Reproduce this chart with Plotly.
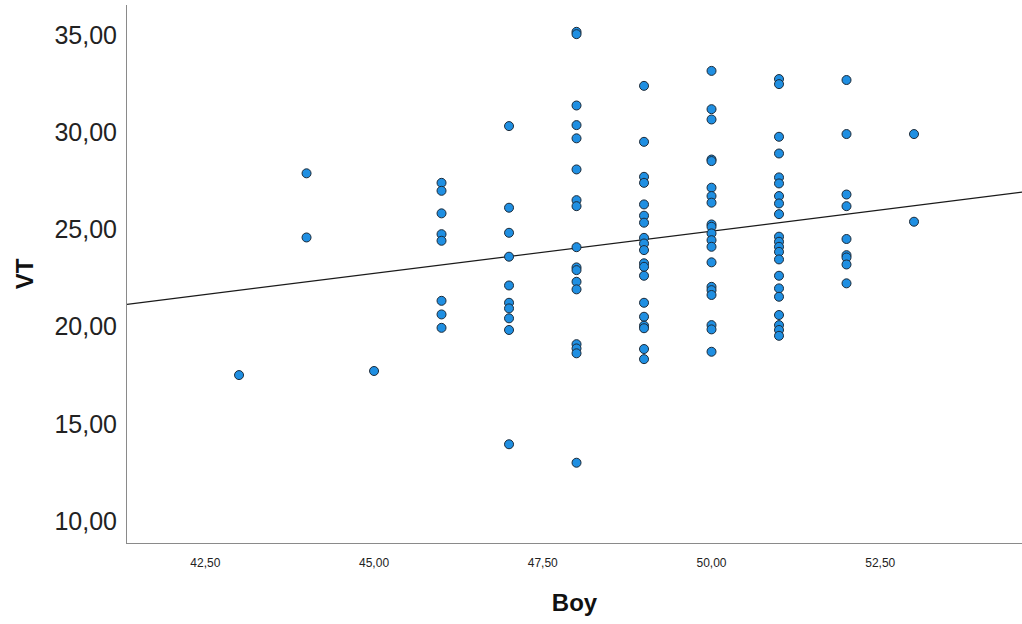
import numpy as np
import plotly.graph_objects as go

# Boy (x) and VT (y) observations, grouped by Boy value
boy_43 = [17.51]
boy_44 = [27.89, 24.59]
boy_45 = [17.72]
boy_46 = [27.40, 26.99, 25.83, 24.76, 24.42, 21.33, 20.63, 19.94]
boy_47 = [30.32, 26.12, 24.83, 23.60, 22.12, 21.23, 20.94, 20.43, 19.83, 13.95]
boy_48 = [35.17, 35.05, 31.38, 30.37, 29.69, 28.09, 26.51, 26.20, 24.09,
          23.05, 22.91, 22.31, 21.92, 19.10, 18.88, 18.63, 13.00]
boy_49 = [32.39, 29.51, 27.71, 27.40, 26.29, 25.71, 25.35, 24.57, 24.28,
          23.94, 23.26, 23.08, 22.62, 21.23, 20.51, 20.05, 19.92, 18.85, 18.33]
boy_50 = [33.16, 31.19, 30.66, 28.60, 28.52, 27.15, 26.72, 26.38, 25.26,
          25.14, 24.80, 24.45, 24.11, 23.31, 22.05, 21.88, 21.63, 20.08,
          19.86, 18.71]
boy_51 = [32.74, 32.48, 29.77, 28.91, 27.68, 27.37, 26.72, 26.34, 25.79,
          24.63, 24.37, 24.11, 23.85, 23.46, 22.62, 21.97, 21.54, 20.60,
          20.08, 19.83, 19.53]
boy_52 = [32.69, 29.91, 26.80, 26.20, 24.51, 23.68, 23.56, 23.20, 22.23]
boy_53 = [29.91, 25.40]

groups = {43: boy_43, 44: boy_44, 45: boy_45, 46: boy_46, 47: boy_47,
          48: boy_48, 49: boy_49, 50: boy_50, 51: boy_51, 52: boy_52,
          53: boy_53}

x_vals = np.array([k for k, vs in groups.items() for _ in vs], dtype=float)
y_vals = np.array([v for vs in groups.values() for v in vs], dtype=float)

x_tick_vals = [42.5, 45.0, 47.5, 50.0, 52.5]
y_tick_vals = [10, 15, 20, 25, 30, 35]

x_range = [41.34, 54.6]
y_range = [8.87, 36.55]

# Least-squares fit line across the full x range
slope, intercept = np.polyfit(x_vals, y_vals, 1)
fit_x = np.array(x_range)
fit_y = intercept + slope * fit_x

fig = go.Figure()
fig.add_trace(go.Scatter(
    x=fit_x, y=fit_y, mode="lines",
    line=dict(color="#1a1a1a", width=1.2),
    hoverinfo="skip", showlegend=False,
))
fig.add_trace(go.Scatter(
    x=x_vals, y=y_vals, mode="markers",
    marker=dict(size=9, color="#1f8fe2",
                line=dict(color="#1c2a38", width=1)),
    showlegend=False,
))

fig.update_layout(
    width=1022, height=624,
    margin=dict(l=127, r=0, t=5, b=81),
    paper_bgcolor="white", plot_bgcolor="white",
    separators=",.",
    font=dict(family="Liberation Sans, Arial, sans-serif", color="#222222"),
)
fig.update_xaxes(
    range=x_range, tickvals=x_tick_vals, tickformat=".2f",
    showgrid=False, zeroline=False,
    showline=True, linecolor="#8a8a8a", linewidth=1,
    ticks="", ticklabelstandoff=9,
    tickfont=dict(family="Liberation Sans Narrow, Arial Narrow, sans-serif",
                  size=12, color="#222222"),
    title=dict(text="<b>Boy</b>", standoff=24,
               font=dict(size=24, color="#111111")),
)
fig.update_yaxes(
    range=y_range, tickvals=y_tick_vals, tickformat=".2f",
    showgrid=False, zeroline=False,
    showline=True, linecolor="#8a8a8a", linewidth=1,
    ticks="", ticklabelstandoff=4,
    tickfont=dict(size=25, color="#222222"),
    title=dict(text="<b>VT</b>", standoff=14,
               font=dict(size=24, color="#111111")),
)

fig.write_html("out.html")
